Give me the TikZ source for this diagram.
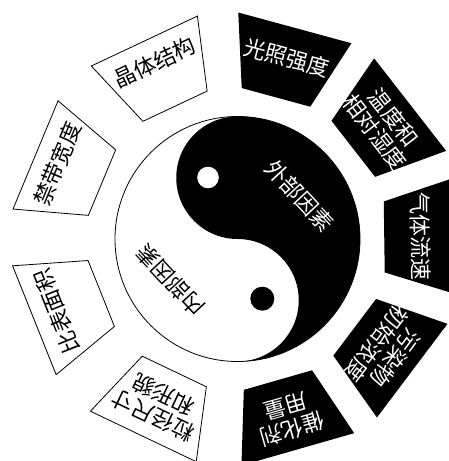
\documentclass[tikz,border=0pt]{standalone}
\usepackage{fontspec}
\usetikzlibrary{calc}
\newfontfamily\cjk{Noto Sans CJK SC}
\begin{document}
\begin{tikzpicture}[x=1pt,y=1pt,
  lab/.style={font=\cjk\fontsize{22}{23.5}\selectfont, align=center, inner sep=0pt},
  wlab/.style={lab, text=black},
  blab/.style={lab, text=white},
  wbox/.style={draw=black, line width=0.8pt, fill=white},
  bbox/.style={fill=black},
]
\useasboundingbox (0,0) rectangle (449,461);
\clip (0,0) rectangle (449,461);
\coordinate (C) at (237.5,222);
% outer trapezoids
\foreach \a/\s in {115.2/wbox, 157.4/wbox, 201.8/wbox, 244.5/wbox, 74.8/bbox, 37.9/bbox, 0.8/bbox, -37/bbox, -74/bbox}{
  \path[\s, shift={(237.5,222)}] ({\a+15}:226.5) -- ({\a-15}:226.5) -- ({\a-13.6}:151) -- ({\a+13.6}:151) -- cycle;
}
% yin-yang
\fill[white] (C) circle (122.5);
\fill[black] (237.5,344.5) arc[start angle=90, end angle=-90, radius=122.5]
  arc[start angle=-90, end angle=90, radius=61.25]
  arc[start angle=-90, end angle=-270, radius=61.25] -- cycle;
\draw[line width=0.8pt] (C) circle (122.5);
\fill[white] (208,283.5) circle (10.8);
\fill[black] (262.3,162.3) circle (12);
\node[blab, rotate=-47] (ext) at (300,265.2) {外部因素};
\node[wlab, rotate=133] (int) at (170,181) {内部因素};
% outer labels
\node[wlab, rotate=115.2-90] (l1) at ($(C)+(115.2:195)$) {晶体结构};
\node[wlab, rotate=157.4-90] (l2) at ($(C)+(157.4:195)$) {禁带宽度};
\node[wlab, rotate=201.8-90] (l3) at ($(C)+(201.8:195)$) {比表面积};
\node[wlab, rotate=244.5-90] (l4) at ($(C)+(244.5:184)$) {粒径尺寸\\和形貌};
\node[blab, rotate=74.8-90] (r1) at ($(C)+(74.8:188)$) {光照强度};
\node[blab, rotate=37.9-90] (r2) at ($(C)+(37.9:186)$) {温度和\\相对湿度};
\node[blab, rotate=0.8-90] (r3) at ($(C)+(0.8:183)$) {气体流速};
\node[blab, rotate=-37-90] (r4) at ($(C)+(-37:186)$) {污染物\\初始浓度};
\node[blab, rotate=-74-90] (r5) at ($(C)+(-74:186)$) {催化剂\\用量};
\end{tikzpicture}
\end{document}
